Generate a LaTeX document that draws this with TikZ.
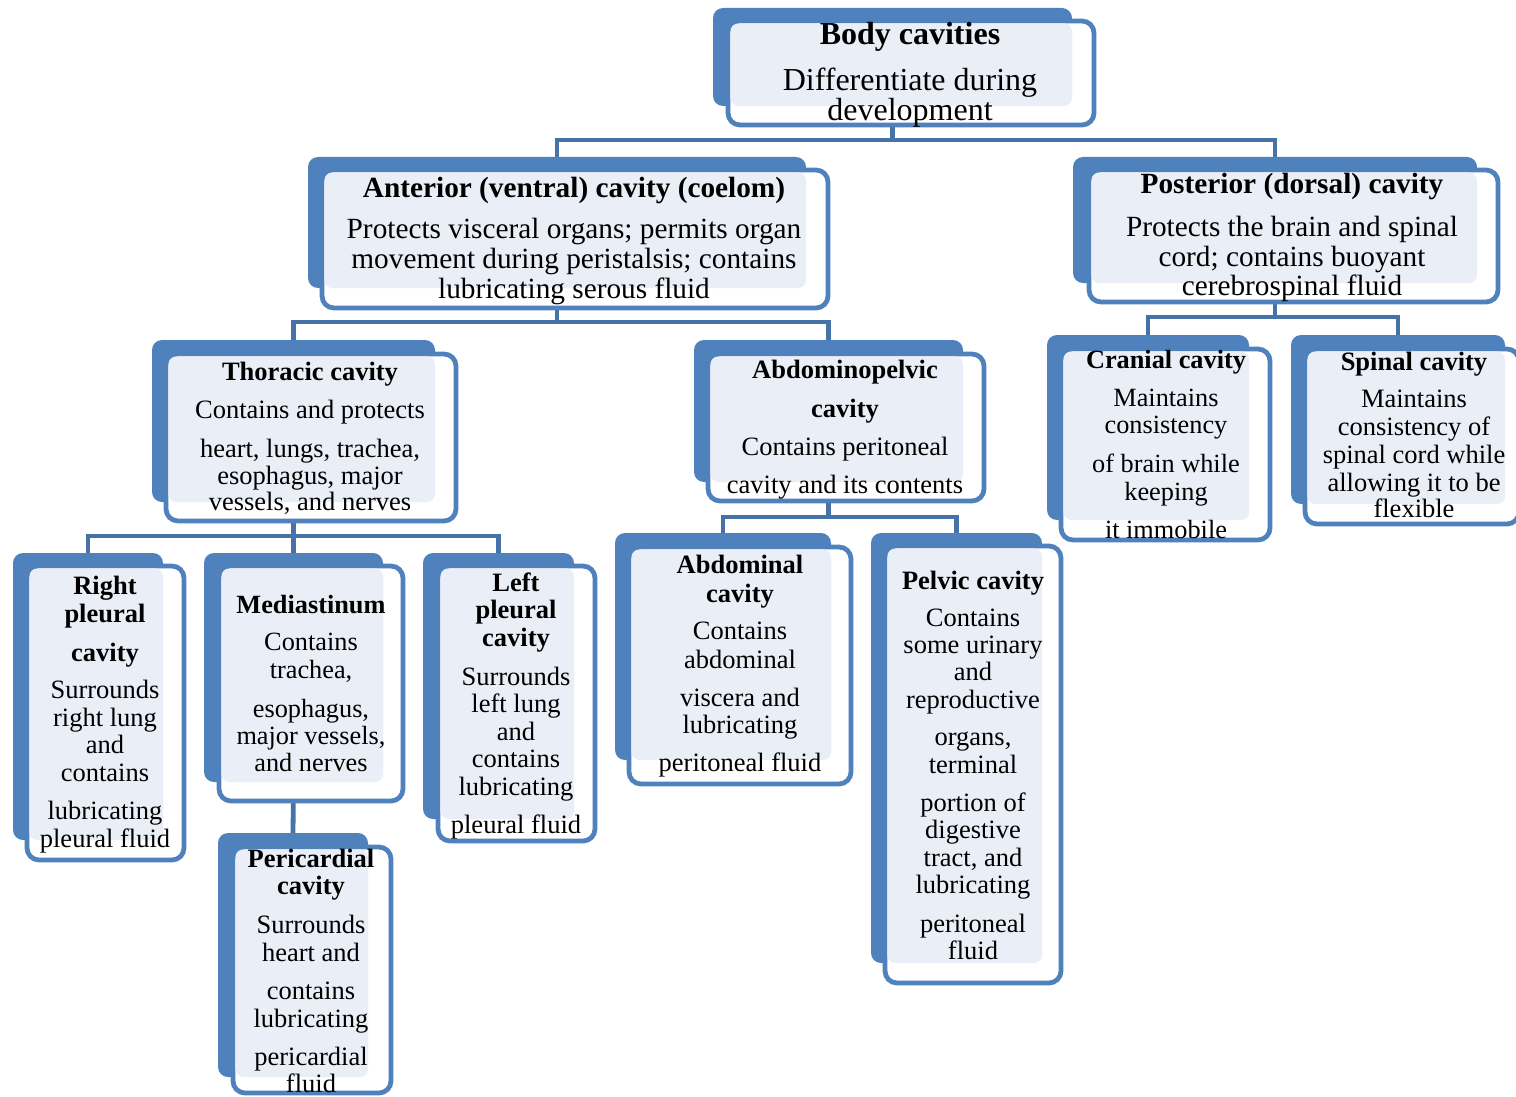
\documentclass[tikz,border=0pt]{standalone}
\usepackage{fontspec}
\setmainfont{Liberation Serif}
\usetikzlibrary{fit}
\pgfdeclarelayer{bg}
\pgfsetlayers{bg,main}
\definecolor{cblue}{HTML}{4F81BD}
\definecolor{cline}{HTML}{4672A8}
\definecolor{clight}{HTML}{EAEFF7}
\newcommand\cavfont[1]{\fontsize{#1}{0pt}\selectfont\lineskiplimit=-100pt\relax\lineskip=0pt\relax}
\tikzset{
 backbox/.style={fill=cblue, draw=none, rounded corners=5pt, inner sep=0pt, outer sep=0pt},
 outbox/.style={fill=white, draw=cblue, line width=2.4pt, rounded corners=6pt, inner sep=0pt, outer sep=0pt},
 lightbox/.style={fill=clight, rounded corners=4pt},
 txt/.style={align=center, inner sep=0pt, anchor=base, font=\cavfont{#1}},
 txt/.default=13.25pt,
 conn/.style={draw=cline, line width=2.4pt},
}
\newcommand\cavbox[9]{%
 \node[backbox, fit={(#2,#3) (#4,#5)}] (#1) {};
 \node[outbox, fit={(#6,#7) (#8,#9)}] (#1o) {};
 \path[lightbox] (#6+2.4,#7+2.4) rectangle (#4,#5);
}
\begin{document}
\begin{tikzpicture}[x=0.5pt,y=-0.5pt]
\useasboundingbox (0,0) rectangle (1516,1097);
% boxes: name, back x1 y1 x2 y2, outline x1 y1 x2 y2
\cavbox{body}{713}{8}{1072}{106}{728}{21}{1094}{125}
\cavbox{ant}{308}{157}{806}{288}{322}{170}{828}{308}
\cavbox{post}{1073}{157}{1477}{283}{1089}{170}{1498}{302}
\cavbox{thor}{152}{340}{435}{502}{166}{354}{456}{521}
\cavbox{abp}{694}{340}{963}{482}{708}{354}{984}{501}
\cavbox{cran}{1047}{335}{1249}{520}{1061}{349}{1270}{540}
\cavbox{spin}{1291}{335}{1505}{504}{1305}{349}{1519}{524}
\cavbox{rpl}{13}{553}{163}{840}{27}{566}{184}{860}
\cavbox{med}{204}{553}{383}{782}{219}{566}{403}{801}
\cavbox{lpl}{423}{553}{574}{819}{438}{566}{595}{841}
\cavbox{peri}{218}{833}{368}{1077}{233}{847}{391}{1093}
\cavbox{abd}{615}{533}{831}{760}{629}{547}{851}{784}
\cavbox{pel}{871}{533}{1042}{963}{885}{546}{1061}{983}

% connectors
\begin{pgfonlayer}{bg}
\path (body.south) ++(0,34) coordinate (bus1);
\draw[conn] (body.south) -- (bus1) -| (ant.north);
\draw[conn] (bus1) -| (post.north);
\path (ant.south) ++(0,34) coordinate (bus2);
\draw[conn] (ant.south) -- (bus2) -| (thor.north);
\draw[conn] (bus2) -| (abp.north);
\path (post.south) ++(0,34) coordinate (bus3);
\draw[conn] (post.south) -- (bus3) -| (cran.north);
\draw[conn] (bus3) -| (spin.north);
\path (thor.south) ++(0,34) coordinate (bus4);
\draw[conn] (thor.south) -- (bus4) -| (rpl.north);
\draw[conn] (bus4) -| (lpl.north);
\draw[conn] (bus4) -- (med.north);
\path (abp.south) ++(0,35) coordinate (bus5);
\draw[conn] (abp.south) -- (bus5) -| (abd.north);
\draw[conn] (bus5) -| (pel.north);
\draw[conn] (med.south) -- (peri.north);
\end{pgfonlayer}

% texts
\node[txt=16pt] (bodyt) at (910,121) {\textbf{Body cavities}\\[23pt]Differentiate during\\[15.5pt]development};
\node[txt=14.65pt] (antt) at (574,298) {\textbf{Anterior (ventral) cavity (coelom)}\\[20.5pt]Protects visceral organs; permits organ\\[15pt]movement during peristalsis; contains\\[15pt]lubricating serous fluid};
\node[txt=14.65pt] (postt) at (1292,295) {\textbf{Posterior (dorsal) cavity}\\[21.5pt]Protects the brain and spinal\\[15pt]cord; contains buoyant\\[14.5pt]cerebrospinal fluid};
\node[txt] (thort) at (310,510) {\textbf{Thoracic cavity}\\[19pt]Contains and protects\\[19.5pt]heart, lungs, trachea,\\[13.5pt]esophagus, major\\[13pt]vessels, and nerves};
\node[txt] (abpt) at (845,493) {\textbf{Abdominopelvic}\\[19.5pt]\textbf{cavity}\\[19pt]Contains peritoneal\\[19pt]cavity and its contents};
\node[txt=13.15pt] (crant) at (1166,538) {\textbf{Cranial cavity}\\[19pt]Maintains\\[13.5pt]consistency\\[19.5pt]of brain while\\[14pt]keeping\\[19pt]it immobile};
\node[txt] (spint) at (1414,517) {\textbf{Spinal cavity}\\[18.5pt]Maintains\\[14pt]consistency of\\[14pt]spinal cord while\\[14pt]allowing it to be\\[13pt]flexible};
\node[txt] (rplt) at (105,847) {\textbf{Right}\\[14pt]\textbf{pleural}\\[19.5pt]\textbf{cavity}\\[18.5pt]Surrounds\\[14pt]right lung\\[13.5pt]and\\[14pt]contains\\[19pt]lubricating\\[14pt]pleural fluid};
\node[txt=13.15pt] (medt) at (311,771) {\textbf{Mediastinum}\\[18.5pt]Contains\\[14pt]trachea,\\[19.5pt]esophagus,\\[13.5pt]major vessels,\\[13.5pt]and nerves};
\node[txt] (perit) at (311,1092) {\textbf{Pericardial}\\[13.5pt]\textbf{cavity}\\[19.5pt]Surrounds\\[14pt]heart and\\[19pt]contains\\[14pt]lubricating\\[19pt]pericardial\\[13.5pt]fluid};
\node[txt] (lplt) at (516,833) {\textbf{Left}\\[13.5pt]\textbf{pleural}\\[14pt]\textbf{cavity}\\[19.5pt]Surrounds\\[13.5pt]left lung\\[14pt]and\\[13.5pt]contains\\[14pt]lubricating\\[19pt]pleural fluid};
\node[txt] (abdt) at (740,771) {\textbf{Abdominal}\\[14.5pt]\textbf{cavity}\\[18.5pt]Contains\\[14.5pt]abdominal\\[19pt]viscera and\\[13.5pt]lubricating\\[19pt]peritoneal fluid};
\node[txt] (pelt) at (973,959) {\textbf{Pelvic cavity}\\[18.5pt]Contains\\[13.5pt]some urinary\\[13.5pt]and\\[14pt]reproductive\\[18.5pt]organs,\\[14pt]terminal\\[19pt]portion of\\[13.5pt]digestive\\[14pt]tract, and\\[13.5pt]lubricating\\[19.5pt]peritoneal\\[13.5pt]fluid};
\end{tikzpicture}
\end{document}
